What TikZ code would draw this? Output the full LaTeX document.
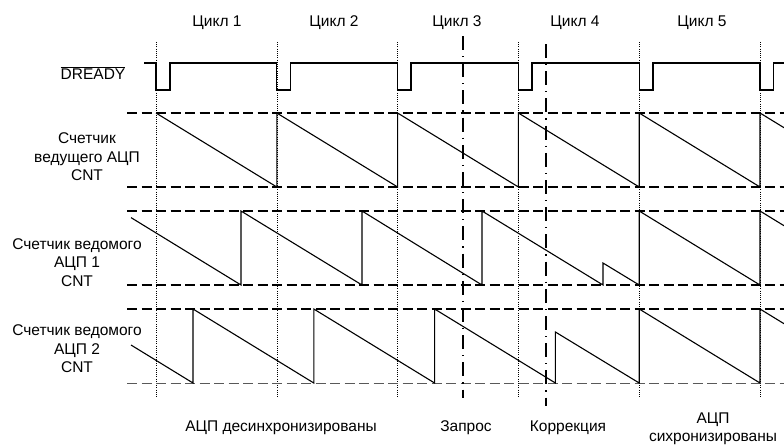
\documentclass[tikz,border=0pt]{standalone}
\usepackage{fontspec}
\setmainfont{Liberation Sans}
\begin{document}
\begin{tikzpicture}[x=1pt,y=-1pt,
  lbl/.style={font=\fontsize{15.5}{18.5}\selectfont, align=center, inner sep=0pt, anchor=center},
  wave/.style={line width=1.1pt, line join=miter},
  level/.style={line width=1.1pt, dash pattern=on 10pt off 4.5pt},
  grid/.style={line width=0.5pt, dash pattern=on 1pt off 1.2pt},
  event/.style={line width=1.3pt, dash pattern=on 14pt off 6pt on 1.2pt off 6pt}]
\useasboundingbox (0,0) rectangle (784,445);
% cycle boundary x positions
\def\bA{156}\def\bB{276.8}\def\bC{397.6}\def\bD{518.4}\def\bE{639.2}\def\bF{760}
% dotted cycle lines
\foreach \x in {\bA,\bB,\bC,\bD,\bE,\bF}
  \draw[grid] (\x,42) -- (\x,398);
% dashed level lines
\foreach \y in {113,187,211,285,309}
  \draw[level] (127,\y) -- (784,\y);
\draw[level, line width=0.9pt, draw=black!65] (127,383) -- (784,383);
% event lines
\draw[event] (463,36) -- (463,398);
\draw[event] (546,44) -- (546,406);
% DREADY
\draw[wave] (144,63) -- (\bA,63) -- (\bA,90) -- (170,90) -- (170,63)
  -- (\bB,63) -- (\bB,90) -- (290.3,90) -- (290.3,63)
  -- (\bC,63) -- (\bC,90) -- (411,90) -- (411,63)
  -- (\bD,63) -- (\bD,90) -- (532,90) -- (532,63)
  -- (\bE,63) -- (\bE,90) -- (653,90) -- (653,63)
  -- (\bF,63) -- (\bF,90) -- (773.5,90) -- (773.5,63) -- (784,63);
% master counter
\draw[wave] (\bA,113) -- (\bB,187) -- (\bB,113) -- (\bC,187) -- (\bC,113)
  -- (\bD,187) -- (\bD,113) -- (\bE,187) -- (\bE,113) -- (\bF,187) -- (\bF,113) -- (784,127.7);
% slave 1
\draw[wave] (131,217.6) -- (241,285) -- (241,211) -- (362,285) -- (362,211)
  -- (482,285) -- (482,211) -- (603,285) -- (603,263) -- (\bE,285) -- (\bE,211)
  -- (\bF,285) -- (\bF,211) -- (784,225.7);
% slave 2
\draw[wave] (131,345) -- (193,383) -- (193,309) -- (313.8,383) -- (313.8,309)
  -- (434.6,383) -- (434.6,309) -- (555.4,383) -- (555.4,332) -- (\bE,383) -- (\bE,309)
  -- (\bF,383) -- (\bF,309) -- (784,323.7);
% labels
\node[lbl] (c1) at (217,23) {Цикл 1};
\node[lbl] (c2) at (334,23) {Цикл 2};
\node[lbl] (c3) at (457,23) {Цикл 3};
\node[lbl] (c4) at (575,23) {Цикл 4};
\node[lbl] (c5) at (702,23) {Цикл 5};
\node[lbl] (dr) at (93,73) {$\overline{\mbox{DREADY}}$};
\node[lbl] (m) at (87,157) {Счетчик\\ведущего АЦП\\CNT};
\node[lbl] (s1) at (77,262.5) {Счетчик ведомого\\АЦП 1\\CNT};
\node[lbl] (s2) at (77,349) {Счетчик ведомого\\АЦП 2\\CNT};
\node[lbl] (t1) at (281,428) {АЦП десинхронизированы};
\node[lbl] (t2) at (466,428) {Запрос};
\node[lbl] (t3) at (568,428) {Коррекция};
\node[lbl] (t4) at (713,429) {АЦП\\сихронизированы};
\end{tikzpicture}
\end{document}
